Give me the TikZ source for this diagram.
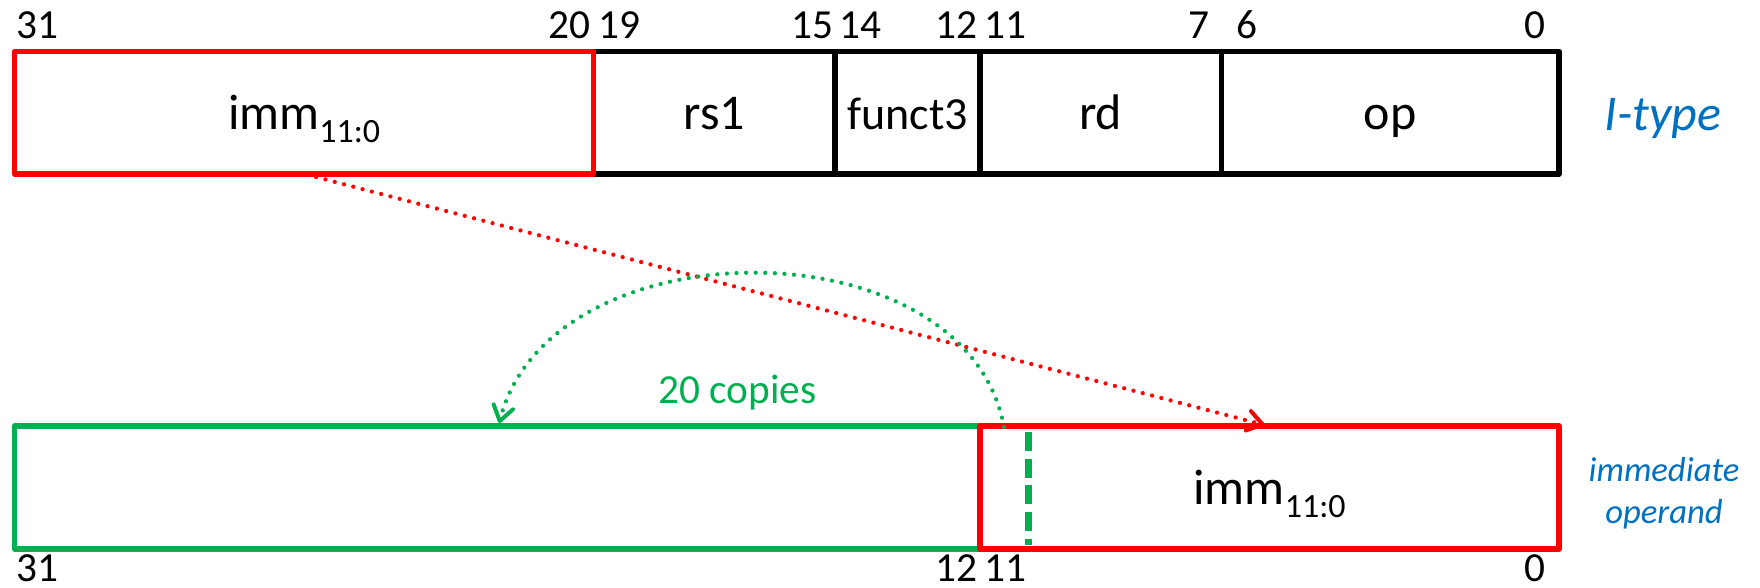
\documentclass[tikz,border=0pt]{standalone}
\usepackage{fontspec}
\setmainfont{Carlito}
\usetikzlibrary{arrows.meta,calc}

\definecolor{fieldred}{HTML}{FF0000}
\definecolor{extgreen}{HTML}{00B050}
\definecolor{typeblue}{HTML}{0070C0}

% font sizes (1 unit = 0.75pt)
\newcommand\fldfnt{\fontsize{37.5pt}{45pt}\selectfont}
\newcommand\fnctfnt{\fontsize{34.5pt}{41pt}\selectfont}
\newcommand\bitfnt{\fontsize{31pt}{37pt}\selectfont}
\newcommand\subfnt{\fontsize{25.5pt}{30pt}\selectfont}
\newcommand\notefnt{\fontsize{26pt}{31.5pt}\selectfont}
\newcommand\immlabel{imm\raisebox{-9.75pt}{\subfnt 11:0}}

\begin{document}
\begin{tikzpicture}[x=0.75pt,y=-0.75pt,
  field/.style={draw, line width=4pt, line join=round, inner sep=0pt, outer sep=0pt,
    text height=25.5pt, text depth=0pt, font=\fldfnt},
  toprow/.style={minimum height=91.875pt},
  botrow/.style={minimum height=92.25pt},
  bitnum/.style={anchor=base, inner sep=0pt, font=\bitfnt},
  reddots/.style={draw=fieldred, line width=3.2pt, line cap=round, dash pattern=on 0pt off 7.2pt},
  greendots/.style={draw=extgreen, line width=3.2pt, line cap=round, dash pattern=on 0pt off 7.2pt},
  barb/.style={-{Straight Barb[round,length=11pt,width=15pt,line width=3pt]}}
]
\useasboundingbox (0,0) rectangle (1760,587);

% ---- I-type instruction fields ----
\node[field, toprow, minimum width=181.01pt, anchor=west] (rs1) at (593.74,112.75) {rs1};
\node[field, toprow, minimum width=108.61pt, anchor=west, font=\fnctfnt] (funct3) at (rs1.east) {funct3};
\node[field, toprow, minimum width=181.01pt, anchor=west] (rd) at (funct3.east) {rd};
\node[field, toprow, minimum width=253.42pt, anchor=west] (op) at (rd.east) {op};
\node[field, toprow, draw=fieldred, minimum width=434.43pt, anchor=east] (imm) at (rs1.west) {\immlabel};

% ---- sign-extended immediate operand ----
\node[field, botrow, draw=extgreen, minimum width=724.05pt] (ext) at (497.2,487.5) {};
\node[field, botrow, draw=fieldred, minimum width=434.43pt, anchor=west] (immb) at (ext.east) {\immlabel};

% sign bit marker
\coordinate (signtop) at ($(immb.north west)+(48.27,6)$);
\coordinate (signbot) at ($(immb.south west)+(48.27,-4)$);
\draw[extgreen, line width=5pt, dash pattern=on 14.25pt off 5.8pt] (signtop) -- (signbot);

% ---- bit positions ----
\node[bitnum] (t31) at (37.5,38) {31};
\node[bitnum] (t20) at (569,38) {20};
\node[bitnum] (t19) at (619,38) {19};
\node[bitnum] (t15) at (812.5,38) {15};
\node[bitnum] (t14) at (860,38) {14};
\node[bitnum] (t12) at (956,38) {12};
\node[bitnum] (t11) at (1005,38) {11};
\node[bitnum] (t7) at (1199,38) {7};
\node[bitnum] (t6) at (1247,38) {6};
\node[bitnum] (t0) at (1534.5,38) {0};

\node[bitnum] (b31) at (37.5,581) {31};
\node[bitnum] (b12) at (956,581) {12};
\node[bitnum] (b11) at (1005,581) {11};
\node[bitnum] (b0) at (1535,581) {0};

% ---- side labels ----
\node[anchor=base, inner sep=0pt, text=typeblue, font=\fldfnt\itshape] (itype) at (1663,130) {I-type};
\node[align=center, inner sep=0pt, text=typeblue, font=\notefnt\itshape] (operand) at (1664,493) {immediate\\operand};

\node[anchor=base, inner sep=0pt, text=extgreen, font=\bitfnt] (copies) at (737.5,403) {20 copies};

% ---- connectors ----
\draw[reddots, barb, fieldred] ($(imm.south)+(12,3)$) -- ($(immb.north)+(-5,-1)$);
\draw[greendots, barb, extgreen] ($(immb.north west)+(24.1,1)$)
  .. controls +(-38,-205) and +(51,-200) .. ($(ext.north)+(2,-3)$);
\end{tikzpicture}
\end{document}
